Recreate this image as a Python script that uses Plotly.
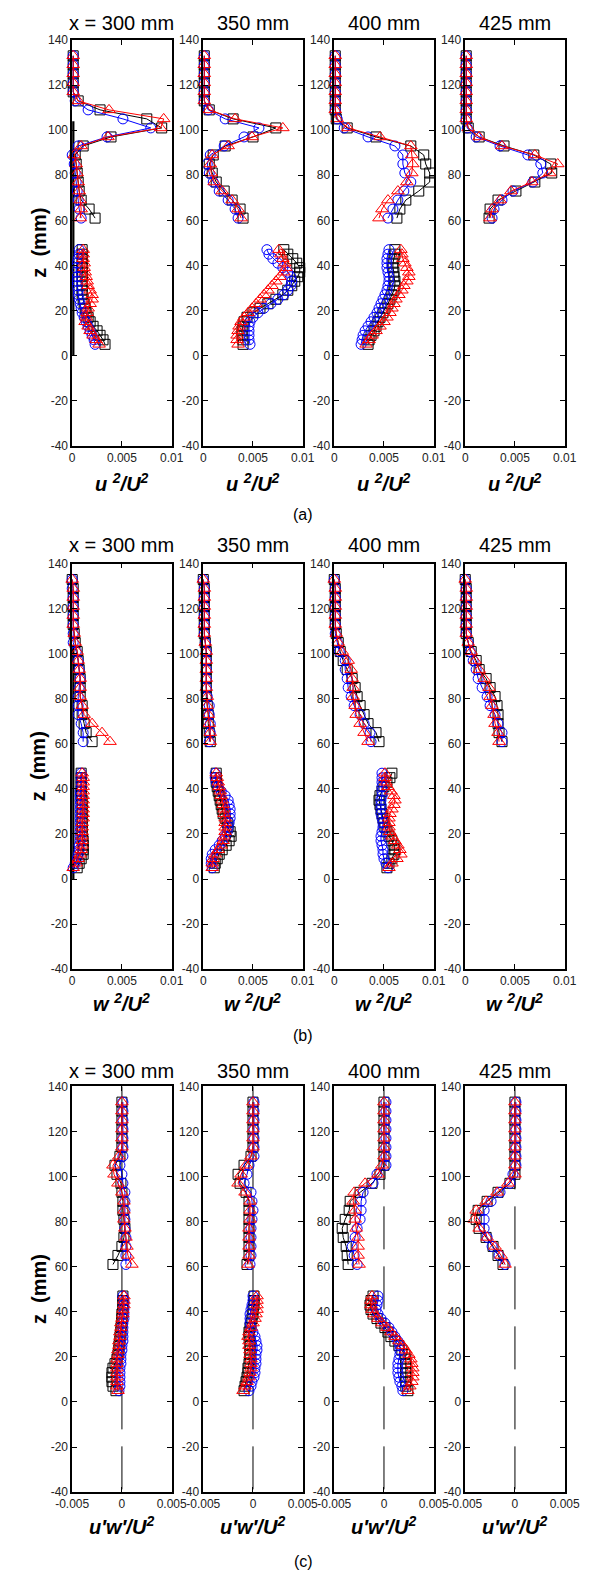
import plotly.graph_objects as go

# Measurement heights (mm)
Z_LO = [5, 7, 9, 11, 13, 15, 17, 19, 21, 23, 25, 27, 29, 31, 33, 35, 37, 39, 41, 43, 45, 47]
Z_HI = [61, 65, 69, 73, 77, 81, 85, 89, 93, 97, 101, 105, 109, 113, 117, 121, 125, 129, 133]

STATIONS = ["x = 300 mm", "350 mm", "400 mm", "425 mm"]

# ---- u'^2/U^2 ----
UU300_K_LO = [0.0033, 0.0031, 0.0028, 0.0025, 0.0021, 0.0018, 0.0016, 0.0014, 0.0013, 0.0012, 0.0011, 0.0010, 0.0010, 0.0010, 0.0010, 0.0010, 0.0010, 0.0010, 0.0010, 0.0010, 0.0010, 0.0010]
UU300_B_LO = [0.0023, 0.0022, 0.0020, 0.0018, 0.0016, 0.0014, 0.0012, 0.0010, 0.0009, 0.0008, 0.0007, 0.0006, 0.0006, 0.0005, 0.0005, 0.0005, 0.0004, 0.0004, 0.0005, 0.0006, 0.0007, 0.0007]
UU300_R_LO = [0.0027, 0.0024, 0.0021, 0.0018, 0.0016, 0.0013, 0.0014, 0.0015, 0.0016, 0.0018, 0.0020, 0.0020, 0.0018, 0.0016, 0.0015, 0.0014, 0.0013, 0.0012, 0.0012, 0.0011, 0.0011, 0.0011]
UU300_K_HI = [0.0023, 0.0017, 0.0009, 0.0007, 0.0006, 0.0005, 0.0004, 0.0003, 0.0011, 0.0039, 0.0090, 0.0075, 0.0028, 0.0006, 0.0001, 0.0001, 0.0001, 0.0001, 0.0001]
UU300_B_HI = [0.0009, 0.0007, 0.0006, 0.0005, 0.0004, 0.0003, 0.0002, 0.0000, 0.0006, 0.0035, 0.0079, 0.0051, 0.0016, 0.0003, 0.0001, 0.0001, 0.0001, 0.0001, 0.0001]
UU300_R_HI = [0.0008, 0.0009, 0.0008, 0.0007, 0.0006, 0.0005, 0.0004, 0.0002, 0.0009, 0.0036, 0.0089, 0.0092, 0.0037, 0.0006, 0.0001, 0.0001, 0.0001, 0.0001, 0.0001]

UU350_K_LO = [0.0040, 0.0040, 0.0039, 0.0039, 0.0040, 0.0041, 0.0044, 0.0050, 0.0057, 0.0065, 0.0073, 0.0080, 0.0085, 0.0089, 0.0092, 0.0095, 0.0097, 0.0097, 0.0094, 0.0090, 0.0085, 0.0081]
UU350_B_LO = [0.0047, 0.0046, 0.0046, 0.0046, 0.0046, 0.0047, 0.0050, 0.0055, 0.0061, 0.0068, 0.0075, 0.0081, 0.0085, 0.0088, 0.0089, 0.0088, 0.0085, 0.0080, 0.0075, 0.0070, 0.0066, 0.0064]
UU350_R_LO = [0.0035, 0.0034, 0.0034, 0.0035, 0.0036, 0.0038, 0.0041, 0.0045, 0.0049, 0.0053, 0.0057, 0.0061, 0.0065, 0.0069, 0.0073, 0.0077, 0.0081, 0.0083, 0.0082, 0.0080, 0.0078, 0.0076]
UU350_K_HI = [0.0040, 0.0037, 0.0029, 0.0021, 0.0013, 0.0009, 0.0006, 0.0010, 0.0022, 0.0050, 0.0073, 0.0030, 0.0006, 0.0001, 0.0001, 0.0001, 0.0001, 0.0001, 0.0001]
UU350_B_HI = [0.0035, 0.0032, 0.0025, 0.0016, 0.0010, 0.0006, 0.0004, 0.0007, 0.0021, 0.0041, 0.0056, 0.0022, 0.0005, 0.0001, 0.0001, 0.0001, 0.0001, 0.0001, 0.0001]
UU350_R_HI = [0.0038, 0.0035, 0.0029, 0.0019, 0.0011, 0.0008, 0.0007, 0.0009, 0.0025, 0.0049, 0.0080, 0.0032, 0.0006, 0.0001, 0.0001, 0.0001, 0.0001, 0.0001, 0.0001]

UU400_K_LO = [0.0034, 0.0035, 0.0037, 0.0040, 0.0042, 0.0044, 0.0046, 0.0049, 0.0051, 0.0054, 0.0056, 0.0058, 0.0060, 0.0061, 0.0061, 0.0060, 0.0060, 0.0059, 0.0059, 0.0060, 0.0061, 0.0061]
UU400_B_LO = [0.0027, 0.0028, 0.0029, 0.0031, 0.0034, 0.0037, 0.0040, 0.0043, 0.0045, 0.0047, 0.0049, 0.0051, 0.0053, 0.0054, 0.0055, 0.0055, 0.0054, 0.0053, 0.0053, 0.0053, 0.0054, 0.0055]
UU400_R_LO = [0.0032, 0.0035, 0.0038, 0.0042, 0.0046, 0.0050, 0.0053, 0.0056, 0.0058, 0.0060, 0.0062, 0.0065, 0.0068, 0.0070, 0.0073, 0.0075, 0.0075, 0.0073, 0.0071, 0.0069, 0.0068, 0.0067]
UU400_K_HI = [0.0063, 0.0066, 0.0072, 0.0085, 0.0096, 0.0096, 0.0092, 0.0090, 0.0077, 0.0042, 0.0013, 0.0002, 0.0001, 0.0001, 0.0001, 0.0001, 0.0001, 0.0001, 0.0001]
UU400_B_HI = [0.0054, 0.0059, 0.0064, 0.0070, 0.0077, 0.0071, 0.0069, 0.0069, 0.0061, 0.0034, 0.0010, 0.0003, 0.0001, 0.0001, 0.0001, 0.0001, 0.0001, 0.0001, 0.0001]
UU400_R_HI = [0.0045, 0.0048, 0.0054, 0.0064, 0.0073, 0.0078, 0.0079, 0.0078, 0.0077, 0.0046, 0.0014, 0.0003, 0.0001, 0.0001, 0.0001, 0.0001, 0.0001, 0.0001, 0.0001]

UU425_K_HI = [0.0024, 0.0025, 0.0033, 0.0051, 0.0070, 0.0087, 0.0086, 0.0069, 0.0039, 0.0014, 0.0003, 0.0001, 0.0001, 0.0001, 0.0001, 0.0001, 0.0001, 0.0001, 0.0001]
UU425_B_HI = [0.0027, 0.0029, 0.0037, 0.0048, 0.0068, 0.0078, 0.0076, 0.0063, 0.0035, 0.0011, 0.0002, 0.0001, 0.0001, 0.0001, 0.0001, 0.0001, 0.0001, 0.0001, 0.0001]
UU425_R_HI = [0.0025, 0.0027, 0.0035, 0.0046, 0.0067, 0.0085, 0.0093, 0.0070, 0.0037, 0.0014, 0.0003, 0.0001, 0.0001, 0.0001, 0.0001, 0.0001, 0.0001, 0.0001, 0.0001]

# ---- w'^2/U^2 ----
WW300_K_LO = [0.0005, 0.0007, 0.0009, 0.0011, 0.0011, 0.0011, 0.0011, 0.0010, 0.0010, 0.0010, 0.0010, 0.0010, 0.0010, 0.0010, 0.0010, 0.0010, 0.0009, 0.0009, 0.0009, 0.0009, 0.0009, 0.0009]
WW300_B_LO = [0.0001, 0.0003, 0.0005, 0.0006, 0.0007, 0.0007, 0.0008, 0.0008, 0.0008, 0.0008, 0.0008, 0.0008, 0.0008, 0.0008, 0.0008, 0.0008, 0.0008, 0.0008, 0.0009, 0.0009, 0.0009, 0.0009]
WW300_R_LO = [0.0001, 0.0004, 0.0006, 0.0008, 0.0009, 0.0010, 0.0010, 0.0010, 0.0010, 0.0010, 0.0010, 0.0011, 0.0011, 0.0011, 0.0011, 0.0011, 0.0011, 0.0011, 0.0011, 0.0011, 0.0011, 0.0010]
WW300_K_HI = [0.0020, 0.0014, 0.0012, 0.0010, 0.0010, 0.0008, 0.0008, 0.0008, 0.0007, 0.0006, 0.0005, 0.0003, 0.0002, 0.0001, 0.0001, 0.0001, 0.0001, 0.0001, 0.0000]
WW300_B_HI = [0.0011, 0.0011, 0.0009, 0.0006, 0.0006, 0.0006, 0.0007, 0.0008, 0.0007, 0.0006, 0.0004, 0.0001, 0.0001, 0.0001, 0.0001, 0.0001, 0.0001, 0.0000, 0.0000]
WW300_R_HI = [0.0038, 0.0030, 0.0020, 0.0012, 0.0010, 0.0008, 0.0008, 0.0008, 0.0007, 0.0006, 0.0005, 0.0003, 0.0002, 0.0001, 0.0001, 0.0001, 0.0001, 0.0001, 0.0000]

WW350_K_LO = [0.0011, 0.0012, 0.0014, 0.0016, 0.0019, 0.0023, 0.0026, 0.0028, 0.0027, 0.0025, 0.0024, 0.0022, 0.0020, 0.0019, 0.0018, 0.0017, 0.0016, 0.0015, 0.0014, 0.0013, 0.0013, 0.0013]
WW350_B_LO = [0.0009, 0.0008, 0.0008, 0.0009, 0.0012, 0.0016, 0.0019, 0.0022, 0.0024, 0.0025, 0.0026, 0.0027, 0.0027, 0.0027, 0.0026, 0.0025, 0.0022, 0.0018, 0.0015, 0.0013, 0.0012, 0.0012]
WW350_R_LO = [0.0009, 0.0009, 0.0010, 0.0012, 0.0015, 0.0018, 0.0020, 0.0021, 0.0022, 0.0022, 0.0022, 0.0022, 0.0021, 0.0021, 0.0020, 0.0019, 0.0018, 0.0017, 0.0016, 0.0015, 0.0014, 0.0013]
WW350_K_HI = [0.0007, 0.0006, 0.0005, 0.0005, 0.0004, 0.0003, 0.0003, 0.0003, 0.0003, 0.0003, 0.0003, 0.0002, 0.0001, 0.0001, 0.0001, 0.0001, 0.0001, 0.0001, 0.0000]
WW350_B_HI = [0.0006, 0.0007, 0.0007, 0.0006, 0.0006, 0.0004, 0.0003, 0.0003, 0.0003, 0.0003, 0.0003, 0.0002, 0.0001, 0.0001, 0.0001, 0.0001, 0.0001, 0.0001, 0.0000]
WW350_R_HI = [0.0007, 0.0007, 0.0006, 0.0005, 0.0004, 0.0004, 0.0003, 0.0003, 0.0003, 0.0003, 0.0003, 0.0002, 0.0001, 0.0001, 0.0001, 0.0001, 0.0001, 0.0001, 0.0000]

WW400_K_LO = [0.0053, 0.0055, 0.0058, 0.0060, 0.0061, 0.0060, 0.0058, 0.0055, 0.0053, 0.0051, 0.0050, 0.0049, 0.0048, 0.0047, 0.0046, 0.0045, 0.0046, 0.0048, 0.0050, 0.0053, 0.0056, 0.0058]
WW400_B_LO = [0.0054, 0.0052, 0.0050, 0.0049, 0.0049, 0.0048, 0.0047, 0.0047, 0.0048, 0.0049, 0.0049, 0.0048, 0.0047, 0.0047, 0.0047, 0.0047, 0.0048, 0.0048, 0.0048, 0.0048, 0.0048, 0.0048]
WW400_R_LO = [0.0055, 0.0058, 0.0063, 0.0067, 0.0066, 0.0064, 0.0061, 0.0058, 0.0056, 0.0055, 0.0055, 0.0055, 0.0056, 0.0058, 0.0060, 0.0061, 0.0060, 0.0057, 0.0054, 0.0052, 0.0051, 0.0051]
WW400_K_HI = [0.0045, 0.0042, 0.0034, 0.0030, 0.0026, 0.0023, 0.0021, 0.0018, 0.0013, 0.0009, 0.0006, 0.0004, 0.0002, 0.0001, 0.0001, 0.0001, 0.0001, 0.0001, 0.0000]
WW400_B_HI = [0.0037, 0.0036, 0.0030, 0.0026, 0.0020, 0.0017, 0.0014, 0.0013, 0.0011, 0.0011, 0.0005, 0.0003, 0.0001, 0.0001, 0.0001, 0.0001, 0.0001, 0.0001, 0.0000]
WW400_R_HI = [0.0034, 0.0030, 0.0026, 0.0022, 0.0021, 0.0019, 0.0019, 0.0018, 0.0017, 0.0014, 0.0008, 0.0004, 0.0002, 0.0001, 0.0001, 0.0001, 0.0001, 0.0001, 0.0000]

WW425_K_HI = [0.0037, 0.0034, 0.0033, 0.0033, 0.0032, 0.0030, 0.0025, 0.0021, 0.0014, 0.0011, 0.0006, 0.0003, 0.0001, 0.0001, 0.0001, 0.0001, 0.0001, 0.0001, 0.0000]
WW425_B_HI = [0.0037, 0.0037, 0.0033, 0.0030, 0.0025, 0.0022, 0.0017, 0.0013, 0.0011, 0.0008, 0.0005, 0.0003, 0.0001, 0.0001, 0.0001, 0.0001, 0.0001, 0.0001, 0.0000]
WW425_R_HI = [0.0034, 0.0033, 0.0030, 0.0029, 0.0027, 0.0025, 0.0024, 0.0019, 0.0014, 0.0010, 0.0006, 0.0003, 0.0001, 0.0001, 0.0001, 0.0001, 0.0001, 0.0001, 0.0000]

# ---- u'w'/U^2 ----
UW300_K_LO = [-0.0006, -0.0009, -0.0010, -0.0010, -0.0010, -0.0009, -0.0007, -0.0005, -0.0004, -0.0003, -0.0003, -0.0002, -0.0002, -0.0001, -0.0001, 0.0000, 0.0000, 0.0000, 0.0001, 0.0001, 0.0001, 0.0001]
UW300_B_LO = [-0.0003, -0.0002, -0.0002, -0.0002, -0.0002, -0.0002, -0.0001, -0.0001, -0.0001, 0.0000, 0.0000, 0.0001, 0.0001, 0.0001, 0.0001, 0.0001, 0.0002, 0.0002, 0.0002, 0.0002, 0.0002, 0.0001]
UW300_R_LO = [-0.0004, -0.0005, -0.0005, -0.0005, -0.0005, -0.0005, -0.0005, -0.0005, -0.0004, -0.0004, -0.0003, -0.0003, -0.0002, -0.0002, -0.0001, -0.0001, 0.0000, 0.0001, 0.0001, 0.0002, 0.0002, 0.0002]
UW300_K_HI = [-0.0009, -0.0004, 0.0000, 0.0002, 0.0003, 0.0002, 0.0001, 0.0001, 0.0000, -0.0001, -0.0005, -0.0007, -0.0002, 0.0000, 0.0000, 0.0000, 0.0000, 0.0000, 0.0000]
UW300_B_HI = [0.0004, 0.0004, 0.0004, 0.0004, 0.0003, 0.0003, 0.0003, 0.0003, 0.0003, 0.0001, 0.0000, -0.0002, 0.0001, 0.0001, 0.0001, 0.0001, 0.0001, 0.0001, 0.0001]
UW300_R_HI = [0.0010, 0.0006, 0.0005, 0.0004, 0.0003, 0.0002, 0.0002, 0.0002, 0.0000, -0.0004, -0.0008, -0.0009, -0.0003, 0.0000, 0.0000, 0.0000, 0.0000, 0.0000, 0.0000]

UW350_K_LO = [-0.0009, -0.0008, -0.0007, -0.0006, -0.0005, -0.0005, -0.0004, -0.0003, -0.0003, -0.0003, -0.0003, -0.0003, -0.0004, -0.0004, -0.0003, -0.0002, -0.0001, 0.0000, 0.0000, 0.0001, 0.0001, 0.0001]
UW350_B_LO = [-0.0004, -0.0002, -0.0001, 0.0001, 0.0002, 0.0002, 0.0003, 0.0003, 0.0003, 0.0004, 0.0004, 0.0003, 0.0002, 0.0000, -0.0002, -0.0003, -0.0003, -0.0003, -0.0002, -0.0001, 0.0000, 0.0000]
UW350_R_LO = [-0.0010, -0.0008, -0.0006, -0.0004, -0.0003, -0.0002, -0.0002, -0.0002, -0.0003, -0.0003, -0.0004, -0.0004, -0.0005, -0.0004, -0.0002, 0.0000, 0.0002, 0.0003, 0.0004, 0.0004, 0.0004, 0.0004]
UW350_K_HI = [-0.0006, -0.0004, -0.0004, -0.0004, -0.0004, -0.0004, -0.0004, -0.0004, -0.0007, -0.0013, -0.0015, -0.0009, -0.0002, 0.0000, 0.0000, 0.0000, 0.0000, 0.0000, 0.0000]
UW350_B_HI = [-0.0003, -0.0002, -0.0002, -0.0002, -0.0002, -0.0001, 0.0000, -0.0001, -0.0002, -0.0009, -0.0006, -0.0004, 0.0001, 0.0001, 0.0001, 0.0001, 0.0001, 0.0001, 0.0001]
UW350_R_HI = [-0.0005, -0.0004, -0.0004, -0.0004, -0.0004, -0.0003, -0.0003, -0.0003, -0.0008, -0.0015, -0.0012, -0.0007, -0.0002, 0.0000, 0.0000, 0.0000, 0.0000, 0.0000, 0.0000]

UW400_K_LO = [0.0024, 0.0022, 0.0022, 0.0022, 0.0022, 0.0022, 0.0022, 0.0022, 0.0021, 0.0018, 0.0015, 0.0011, 0.0007, 0.0004, 0.0001, -0.0003, -0.0007, -0.0011, -0.0013, -0.0014, -0.0013, -0.0011]
UW400_B_LO = [0.0019, 0.0018, 0.0016, 0.0015, 0.0014, 0.0014, 0.0014, 0.0015, 0.0016, 0.0016, 0.0016, 0.0014, 0.0011, 0.0008, 0.0005, 0.0001, -0.0003, -0.0006, -0.0008, -0.0007, -0.0006, -0.0006]
UW400_R_LO = [0.0024, 0.0026, 0.0028, 0.0029, 0.0029, 0.0029, 0.0028, 0.0027, 0.0025, 0.0022, 0.0019, 0.0015, 0.0011, 0.0007, 0.0003, -0.0002, -0.0006, -0.0010, -0.0012, -0.0013, -0.0013, -0.0012]
UW400_K_HI = [-0.0036, -0.0037, -0.0038, -0.0041, -0.0042, -0.0039, -0.0035, -0.0034, -0.0024, -0.0012, -0.0004, 0.0000, 0.0000, 0.0000, 0.0000, 0.0000, 0.0000, 0.0000, 0.0000]
UW400_B_HI = [-0.0027, -0.0030, -0.0032, -0.0029, -0.0027, -0.0024, -0.0023, -0.0023, -0.0021, -0.0011, -0.0007, 0.0002, 0.0002, 0.0002, 0.0002, 0.0002, 0.0002, 0.0002, 0.0002]
UW400_R_HI = [-0.0025, -0.0026, -0.0026, -0.0026, -0.0028, -0.0029, -0.0029, -0.0031, -0.0030, -0.0019, -0.0006, -0.0002, 0.0000, 0.0000, 0.0000, 0.0000, 0.0000, 0.0000, 0.0000]

UW425_K_HI = [-0.0012, -0.0017, -0.0022, -0.0029, -0.0036, -0.0039, -0.0037, -0.0028, -0.0017, -0.0005, 0.0000, 0.0000, 0.0000, 0.0000, 0.0000, 0.0000, 0.0000, 0.0000, 0.0000]
UW425_B_HI = [-0.0010, -0.0016, -0.0023, -0.0028, -0.0031, -0.0031, -0.0031, -0.0024, -0.0015, -0.0005, -0.0002, 0.0001, 0.0001, 0.0001, 0.0001, 0.0001, 0.0001, 0.0001, 0.0001]
UW425_R_HI = [-0.0010, -0.0014, -0.0020, -0.0028, -0.0036, -0.0041, -0.0039, -0.0029, -0.0018, -0.0007, 0.0000, 0.0000, 0.0000, 0.0000, 0.0000, 0.0000, 0.0000, 0.0000, 0.0000]

# Wall reference line at x = 300 mm and the zero line for the shear stress
WALL_X = [0.0001, 0.0001]
WALL_Z = [0, 104]
ZERO_X = [0, 0]
ZERO_Z = [140, -40]

# (black, blue, red) profiles for each station: (lower, upper)
PANELS = [
    dict(label="(a)", title="<b><i>u <sup>2</sup>/U<sup>2</sup></i></b>", xr=[0, 0.01],
         ticks=([0, 0.005, 0.01], ["0", "0.005", "0.01"]),
         series=[
             [(UU300_K_LO, UU300_K_HI), (UU300_B_LO, UU300_B_HI), (UU300_R_LO, UU300_R_HI)],
             [(UU350_K_LO, UU350_K_HI), (UU350_B_LO, UU350_B_HI), (UU350_R_LO, UU350_R_HI)],
             [(UU400_K_LO, UU400_K_HI), (UU400_B_LO, UU400_B_HI), (UU400_R_LO, UU400_R_HI)],
             [(None, UU425_K_HI), (None, UU425_B_HI), (None, UU425_R_HI)],
         ]),
    dict(label="(b)", title="<b><i>w <sup>2</sup>/U<sup>2</sup></i></b>", xr=[0, 0.01],
         ticks=([0, 0.005, 0.01], ["0", "0.005", "0.01"]),
         series=[
             [(WW300_K_LO, WW300_K_HI), (WW300_B_LO, WW300_B_HI), (WW300_R_LO, WW300_R_HI)],
             [(WW350_K_LO, WW350_K_HI), (WW350_B_LO, WW350_B_HI), (WW350_R_LO, WW350_R_HI)],
             [(WW400_K_LO, WW400_K_HI), (WW400_B_LO, WW400_B_HI), (WW400_R_LO, WW400_R_HI)],
             [(None, WW425_K_HI), (None, WW425_B_HI), (None, WW425_R_HI)],
         ]),
    dict(label="(c)", title="<b><i>u\u2032w\u2032/U<sup>2</sup></i></b>", xr=[-0.005, 0.005],
         ticks=([-0.005, 0, 0.005], ["-0.005", "0", "0.005"]),
         series=[
             [(UW300_K_LO, UW300_K_HI), (UW300_B_LO, UW300_B_HI), (UW300_R_LO, UW300_R_HI)],
             [(UW350_K_LO, UW350_K_HI), (UW350_B_LO, UW350_B_HI), (UW350_R_LO, UW350_R_HI)],
             [(UW400_K_LO, UW400_K_HI), (UW400_B_LO, UW400_B_HI), (UW400_R_LO, UW400_R_HI)],
             [(None, UW425_K_HI), (None, UW425_B_HI), (None, UW425_R_HI)],
         ]),
]

STYLES = [
    dict(color="#000000", symbol="square-open", size=10),
    dict(color="#0000FF", symbol="circle-open", size=10),
    dict(color="#FF0000", symbol="triangle-up-open", size=11),
]

W, H = 604, 1583
COL_LEFT = [58.3, 196.7, 335.0, 473.3]
COL_W = 105.0
ROW_TB = [(33.3, 442.7), (561.7, 970.7), (1089.0, 1498.4)]
TITLE_Y = [16, 543, 1073]
XTITLE_Y = [480, 1004, 1532]
LABEL_Y = [512, 1038, 1568]

FONT = "Arial, Liberation Sans, sans-serif"

fig = go.Figure()
annotations = []


def py(v):
    return 1 - v / H


for p, panel in enumerate(PANELS):
    top, bot = ROW_TB[p]
    for s in range(4):
        idx = p * 4 + s + 1
        xa = "x" if idx == 1 else f"x{idx}"
        ya = "y" if idx == 1 else f"y{idx}"
        left = COL_LEFT[s]

        # reference lines
        if p == 2:
            fig.add_trace(go.Scatter(x=ZERO_X, y=ZERO_Z, mode="lines", xaxis=xa, yaxis=ya,
                                     line=dict(color="black", width=1, dash="43px,17px"),
                                     hoverinfo="skip", cliponaxis=False))
        elif s == 0:
            fig.add_trace(go.Scatter(x=WALL_X, y=WALL_Z, mode="lines", xaxis=xa, yaxis=ya,
                                     line=dict(color="black", width=2.5),
                                     hoverinfo="skip", cliponaxis=False))

        for (lo, hi), st in zip(panel["series"][s], STYLES):
            if lo is None:
                xs, zs = list(hi), list(Z_HI)
            else:
                xs = list(lo) + [None] + list(hi)
                zs = list(Z_LO) + [None] + list(Z_HI)
            fig.add_trace(go.Scatter(
                x=xs, y=zs, mode="lines+markers", xaxis=xa, yaxis=ya,
                connectgaps=False, cliponaxis=False,
                line=dict(color=st["color"], width=1),
                marker=dict(symbol=st["symbol"], size=st["size"], color=st["color"],
                            line=dict(color=st["color"], width=1)),
            ))

        common = dict(showline=True, linecolor="black", linewidth=1.5, mirror="ticks",
                      ticks="inside", ticklen=5, tickwidth=1, tickcolor="black",
                      showgrid=False, zeroline=False,
                      tickfont=dict(family=FONT, size=12, color="#222222"))
        fig.layout[f"xaxis{idx}"] = dict(
            domain=[left / W, (left + COL_W) / W], anchor=ya, range=panel["xr"],
            tickvals=panel["ticks"][0], ticktext=panel["ticks"][1], **common)
        fig.layout[f"yaxis{idx}"] = dict(
            domain=[py(bot), py(top)], anchor=xa, range=[-40, 140],
            tickvals=[-40, -20, 0, 20, 40, 60, 80, 100, 120, 140],
            ticktext=["-40", "-20", "0", "20", "40", "60", "80", "100", "120", "140"], **common)

        cx = (left + COL_W / 2) / W
        annotations.append(dict(text=STATIONS[s], x=cx, y=py(TITLE_Y[p]), xref="paper", yref="paper",
                                xanchor="center", yanchor="middle", showarrow=False,
                                font=dict(family=FONT, size=20, color="black")))
        annotations.append(dict(text=panel["title"], x=cx, y=py(XTITLE_Y[p]), xref="paper", yref="paper",
                                xanchor="center", yanchor="middle", showarrow=False,
                                font=dict(family=FONT, size=20, color="black")))

    annotations.append(dict(text="<b>z\u00a0\u00a0(mm)</b>", x=23 / W, y=py((top + bot) / 2),
                            xref="paper", yref="paper", xanchor="center", yanchor="middle",
                            textangle=-90, showarrow=False,
                            font=dict(family=FONT, size=20, color="black")))
    annotations.append(dict(text=panel["label"], x=302 / W, y=py(LABEL_Y[p]), xref="paper", yref="paper",
                            xanchor="center", yanchor="middle", showarrow=False,
                            font=dict(family=FONT, size=16, color="black")))

fig.update_layout(width=W, height=H, margin=dict(l=0, r=0, t=0, b=0),
                  paper_bgcolor="white", plot_bgcolor="white", showlegend=False,
                  annotations=annotations)

fig.write_html("out.html")
